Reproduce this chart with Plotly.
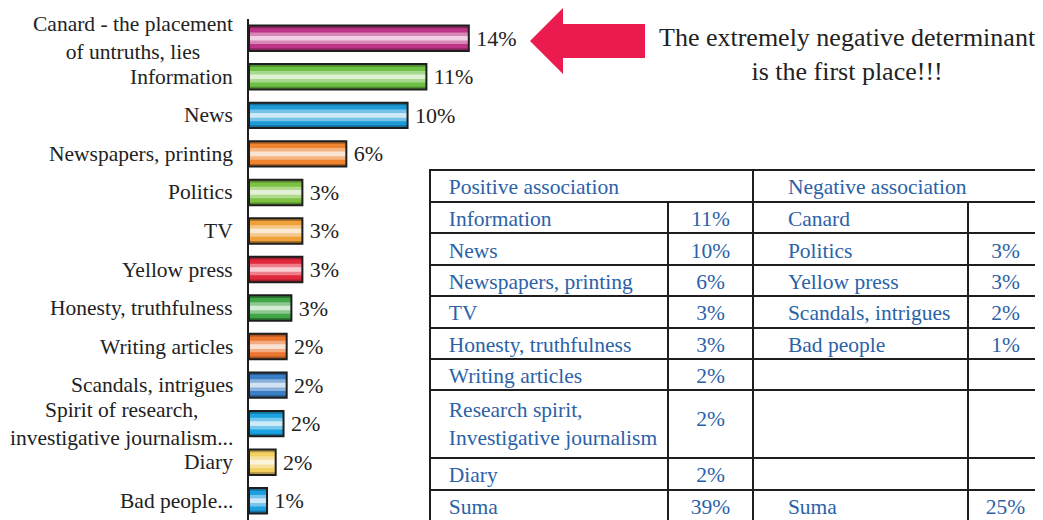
import plotly.graph_objects as go

# target picture size and the page's default body margin
W, H = 1043, 520
OFF = 8
FW, FH = W - OFF, H - OFF

# ---------------- data ----------------
categories = [
    "Canard - the placement<br>of untruths, lies",
    "Information",
    "News",
    "Newspapers, printing",
    "Politics",
    "TV",
    "Yellow press",
    "Honesty, truthfulness",
    "Writing articles",
    "Scandals, intrigues",
    "Spirit of research,<br>investigative journalism...",
    "Diary",
    "Bad people...",
]
values = [14.0, 11.3, 10.1, 6.2, 3.4, 3.4, 3.4, 2.7, 2.4, 2.4, 2.2, 1.7, 1.15]
value_labels = ["14%", "11%", "10%", "6%", "3%", "3%", "3%", "3%", "2%", "2%", "2%", "2%", "1%"]
bar_colors = [
    "#BE3487", "#6CC044", "#1C9BD8", "#EE8430", "#7DC242", "#EFA23A", "#E2283C",
    "#3FA648", "#EC7530", "#3A7EC4", "#1BA3E2", "#F1D060", "#1E9FE0",
]

note_text = "The extremely negative determinant<br>is the first place!!!"

table_header = ["Positive association", "Negative association"]
pos_items = ["Information", "News", "Newspapers, printing", "TV", "Honesty, truthfulness",
             "Writing articles", "Research spirit,<br>Investigative journalism", "Diary", "Suma"]
pos_values = ["11%", "10%", "6%", "3%", "3%", "2%", "2%", "2%", "39%"]
neg_items = ["Canard", "Politics", "Yellow press", "Scandals, intrigues", "Bad people", "", "", "", "Suma"]
neg_values = ["", "3%", "3%", "2%", "1%", "", "", "", "25%"]

# ---------------- helpers ----------------
def mix(hex_color, target, t):
    h = hex_color.lstrip("#")
    r, g, b = int(h[0:2], 16), int(h[2:4], 16), int(h[4:6], 16)
    tr, tg, tb = target
    return "rgb(%d,%d,%d)" % (r + (tr - r) * t, g + (tg - g) * t, b + (tb - b) * t)

def px(x):
    return (x - OFF) / FW

def py(y):
    return 1 - (y - OFF) / FH

SERIF = "Liberation Serif, Times New Roman, serif"
TXT = "#222222"
TBLUE = "#2B62A8"
LINE = "#1e1e1e"
NB = "\u00a0"
FS = 21.5
TFS = 21.5

def nowrap(s):
    return s.replace(" ", NB)

fig = go.Figure()

# cylinder-like shading: stacked overlaid bars of decreasing thickness
layers = [
    (0.66, lambda c: mix(c, (0, 0, 0), 0.28)),
    (0.52, lambda c: mix(c, (0, 0, 0), 0.0)),
    (0.30, lambda c: mix(c, (255, 255, 255), 0.40)),
    (0.12, lambda c: mix(c, (255, 255, 255), 0.78)),
]
for w, f in layers:
    fig.add_trace(go.Bar(
        y=categories, x=values, orientation="h", width=w,
        marker=dict(color=[f(c) for c in bar_colors], line=dict(width=0)),
        hoverinfo="skip", showlegend=False,
    ))

# outline + value labels
fig.add_trace(go.Bar(
    y=categories, x=values, orientation="h", width=0.66,
    marker=dict(color="rgba(0,0,0,0)", line=dict(color=LINE, width=2)),
    text=["\u2009" + s for s in value_labels], textposition="outside",
    textfont=dict(family=SERIF, size=22, color=TXT),
    cliponaxis=False, showlegend=False,
))

# category labels (centered multi-line, right anchored at the axis)
annotations = []
for cat in categories:
    annotations.append(dict(
        x=0, xref="x", y=cat, yref="y", text=cat, showarrow=False,
        xanchor="right", yanchor="middle", align="center", xshift=-14,
        font=dict(family=SERIF, size=FS, color=TXT),
    ))

annotations.append(dict(
    x=px(847), y=py(54), xref="paper", yref="paper", text=note_text,
    showarrow=False, xanchor="center", yanchor="middle", align="center",
    font=dict(family=SERIF, size=26, color=TXT),
))

# ---------------- table ----------------
fig.add_trace(go.Table(
    domain=dict(x=[px(430), 1], y=[py(202), py(170)]),
    columnwidth=[323, 290],
    header=dict(
        values=[NB + NB + nowrap(table_header[0]), NB * 5 + nowrap(table_header[1])],
        align=["left", "left"], height=32,
        font=dict(family=SERIF, size=TFS, color=TBLUE),
        line=dict(color=LINE, width=2), fill=dict(color="white"),
    ),
    cells=dict(values=[[], []]),
))

col1 = [NB + NB + nowrap(s).replace("<br>", "<br>" + NB + NB) for s in pos_items]
col2 = [("<br>" + v) if "<br>" in s else v for s, v in zip(pos_items, pos_values)]
col3 = [(NB * 5 + nowrap(s)) if s else "" for s in neg_items]
col4 = list(neg_values)

fig.add_trace(go.Table(
    domain=dict(x=[px(430), 1], y=[0, py(202)]),
    columnwidth=[238, 85, 215, 75],
    header=dict(
        values=[col1[0], col2[0], col3[0], col4[0]],
        align=["left", "center", "left", "center"], height=31.4,
        font=dict(family=SERIF, size=TFS, color=TBLUE),
        line=dict(color=LINE, width=2), fill=dict(color="white"),
    ),
    cells=dict(
        values=[col1[1:], col2[1:], col3[1:], col4[1:]],
        align=["left", "center", "left", "center"], height=31.4,
        font=dict(family=SERIF, size=TFS, color=TBLUE),
        line=dict(color=LINE, width=2), fill=dict(color="white"),
    ),
))

# red block arrow pointing at the top bar
arrow_path = "M {} {} L {} {} L {} {} L {} {} L {} {} L {} {} L {} {} Z".format(
    px(530), py(41), px(563), py(8), px(563), py(24), px(645), py(24),
    px(645), py(58), px(563), py(58), px(563), py(74))
shapes = [dict(type="path", xref="paper", yref="paper", path=arrow_path,
               fillcolor="#EB1A4F", line=dict(width=0))]

fig.update_layout(
    width=FW, height=FH,
    margin=dict(l=0, r=0, t=0, b=0),
    paper_bgcolor="white", plot_bgcolor="white",
    barmode="overlay",
    xaxis=dict(domain=[px(249), 1], range=[0, (W - 249) / 15.7],
               visible=False, showgrid=False, zeroline=False),
    yaxis=dict(domain=[0, py(19)], range=[12.5, -0.5], type="category",
               categoryorder="array", categoryarray=categories,
               showticklabels=False, ticks="", showgrid=False, zeroline=False,
               showline=True, linecolor=LINE, linewidth=2),
    annotations=annotations,
    shapes=shapes,
    font=dict(family=SERIF),
)

fig.write_html("out.html")
